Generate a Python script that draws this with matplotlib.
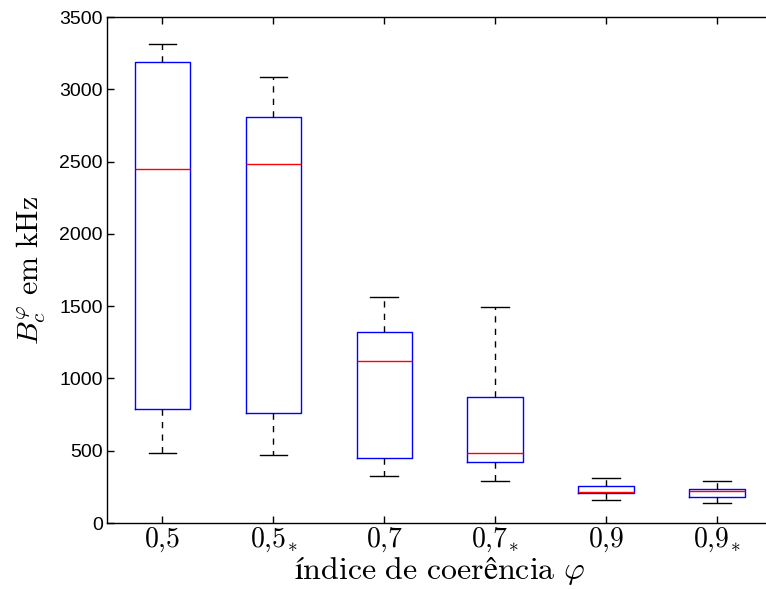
import matplotlib
matplotlib.use("Agg")
import matplotlib.pyplot as plt

plt.rcParams["mathtext.fontset"] = "cm"

# Groups of coherence index (starred = alternative estimate)
labels = [r"$0{,}5$", r"$0{,}5_{\!*}$", r"$0{,}7$", r"$0{,}7_{\!*}$", r"$0{,}9$", r"$0{,}9_{\!*}$"]

# Box statistics (kHz)
whisker_low = [484, 468, 325, 290, 161, 140]
q1 = [790, 763, 447, 420, 205, 182]
median = [2449, 2481, 1122, 482, 216, 223]
q3 = [3191, 2806, 1323, 869, 258, 233]
whisker_high = [3313, 3083, 1563, 1496, 313, 288]

stats = []
for lo, a, m, b, hi in zip(whisker_low, q1, median, q3, whisker_high):
    stats.append(dict(whislo=lo, q1=a, med=m, q3=b, whishi=hi, fliers=[]))

W, H = 766, 589
fig = plt.figure(figsize=(W / 100, H / 100), dpi=100)
ax = fig.add_axes([107 / W, 66 / H, 665.5 / W, 506 / H])

positions = list(range(1, len(stats) + 1))
ax.bxp(
    stats,
    positions=positions,
    widths=0.5,
    capwidths=0.25,
    showfliers=False,
    boxprops=dict(color="#0000ff", linewidth=1.0),
    medianprops=dict(color="#ff0000", linewidth=1.0),
    whiskerprops=dict(color="black", linewidth=1.0, linestyle=(0, (4.5, 4.5))),
    capprops=dict(color="black", linewidth=1.0),
)

ax.set_xlim(0.5, len(stats) + 0.5)
ax.set_ylim(0, 3500)
ax.set_yticks(range(0, 3501, 500))
ax.set_xticks(positions)
ax.set_xticklabels(labels, fontsize=20)
for t in ax.get_yticklabels():
    t.set_fontfamily("Liberation Sans")
    t.set_fontsize(14)

ax.tick_params(direction="in", top=True, right=True, length=5, width=1.0, colors="black")
ax.tick_params(axis="x", pad=2)
ax.tick_params(axis="y", pad=3)
for s in ax.spines.values():
    s.set_linewidth(1.0)
    s.set_color("black")

# x label centred under the visible part of the axis
xl = fig.text(440 / W, 2 / H, r"$\mathrm{índice\ de\ coerência}\ \varphi$",
              fontsize=23, ha="center", va="bottom")
ax.set_ylabel(r"$B_c^{\varphi}\ \mathrm{em\ kHz}$", fontsize=21.5, labelpad=8)

fig.savefig("out.png", dpi=100)
